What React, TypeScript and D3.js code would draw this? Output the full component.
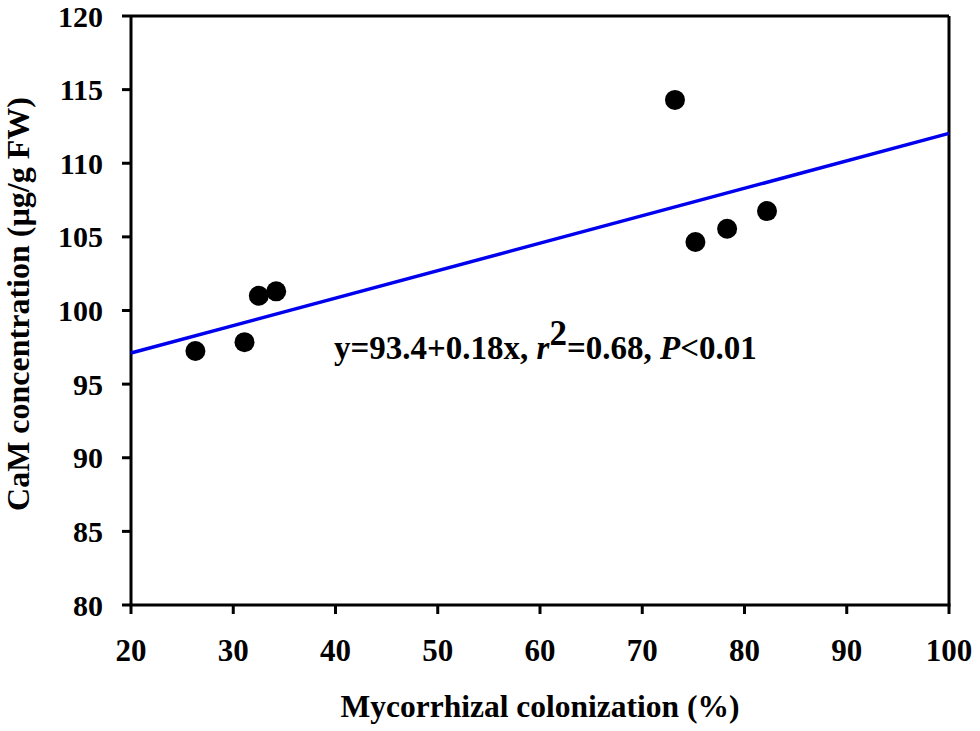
import React from "react";
import * as d3 from "d3";

const colonization = [26.3, 31.1, 32.5, 34.2, 73.2, 75.2, 78.3, 82.2];
const camConc = [97.25, 97.85, 101.0, 101.3, 114.3, 104.65, 105.55, 106.75];
const xTicks = [20, 30, 40, 50, 60, 70, 80, 90, 100];
const yTicks = [80, 85, 90, 95, 100, 105, 110, 115, 120];
const fitIntercept = 93.38;
const fitSlope = 0.1865;
const fitRange = [20, 100];

const W = 980;
const H = 731;
const M = { left: 131, right: 949, top: 16, bottom: 605 };
const FONT = "'Liberation Serif', 'Times New Roman', serif";

export default function App() {
  const x = d3.scaleLinear().domain([20, 100]).range([M.left, M.right]);
  const y = d3.scaleLinear().domain([80, 120]).range([M.bottom, M.top]);
  const line = d3
    .line<number>()
    .x((d) => x(d))
    .y((d) => y(fitIntercept + fitSlope * d));
  const sw = 3;
  return (
    <svg
      width={W}
      height={H}
      style={{ position: "absolute", left: 0, top: 0, background: "#fff" }}
      fontFamily={FONT}
      fontWeight="bold"
    >
      <rect x={0} y={0} width={W} height={H} fill="#fff" />
      {/* frame */}
      <line x1={M.left} x2={M.right} y1={M.top} y2={M.top} stroke="#000" strokeWidth={sw} />
      <line x1={M.right} x2={M.right} y1={M.top} y2={M.bottom} stroke="#000" strokeWidth={sw} />
      <line x1={M.left} x2={M.left} y1={M.top} y2={M.bottom} stroke="#000" strokeWidth={sw} />
      <line x1={M.left - 1.5} x2={M.right + 1.5} y1={M.bottom} y2={M.bottom} stroke="#000" strokeWidth={sw} />
      {/* y ticks */}
      {yTicks.map((t) => (
        <g key={"y" + t}>
          <line x1={M.left - 9} x2={M.left} y1={y(t)} y2={y(t)} stroke="#000" strokeWidth={sw} />
          <text x={103} y={y(t)} dy="0.35em" textAnchor="end" fontSize={30} fill="#000">
            {t}
          </text>
        </g>
      ))}
      {/* x ticks */}
      {xTicks.map((t) => (
        <g key={"x" + t}>
          <line x1={x(t)} x2={x(t)} y1={M.bottom} y2={M.bottom + 9} stroke="#000" strokeWidth={sw} />
          <text x={x(t)} y={661} textAnchor="middle" fontSize={31} fill="#000">
            {t}
          </text>
        </g>
      ))}
      {/* regression line */}
      <path d={line(fitRange) || ""} stroke="#0000ee" strokeWidth={3.5} fill="none" />
      {/* points */}
      {colonization.map((c, i) => (
        <circle key={i} cx={x(c)} cy={y(camConc[i])} r={10} fill="#000" />
      ))}
      {/* equation */}
      <text x={334} y={359} fontSize={33} fill="#000">
        y=93.4+0.18x, <tspan fontStyle="italic">r</tspan>
        <tspan dy={-14} fontSize={35}>2</tspan>
        <tspan dy={14}>=0.68, </tspan>
        <tspan fontStyle="italic">P</tspan>
        <tspan>&lt;0.01</tspan>
      </text>
      {/* axis titles */}
      <text x={540} y={717} textAnchor="middle" fontSize={31.5} fill="#000">
        Mycorrhizal colonization (%)
      </text>
      <text
        transform={`translate(29,304) rotate(-90)`}
        textAnchor="middle"
        fontSize={32}
        fill="#000"
      >
        CaM concentration (µg/g FW)
      </text>
    </svg>
  );
}
